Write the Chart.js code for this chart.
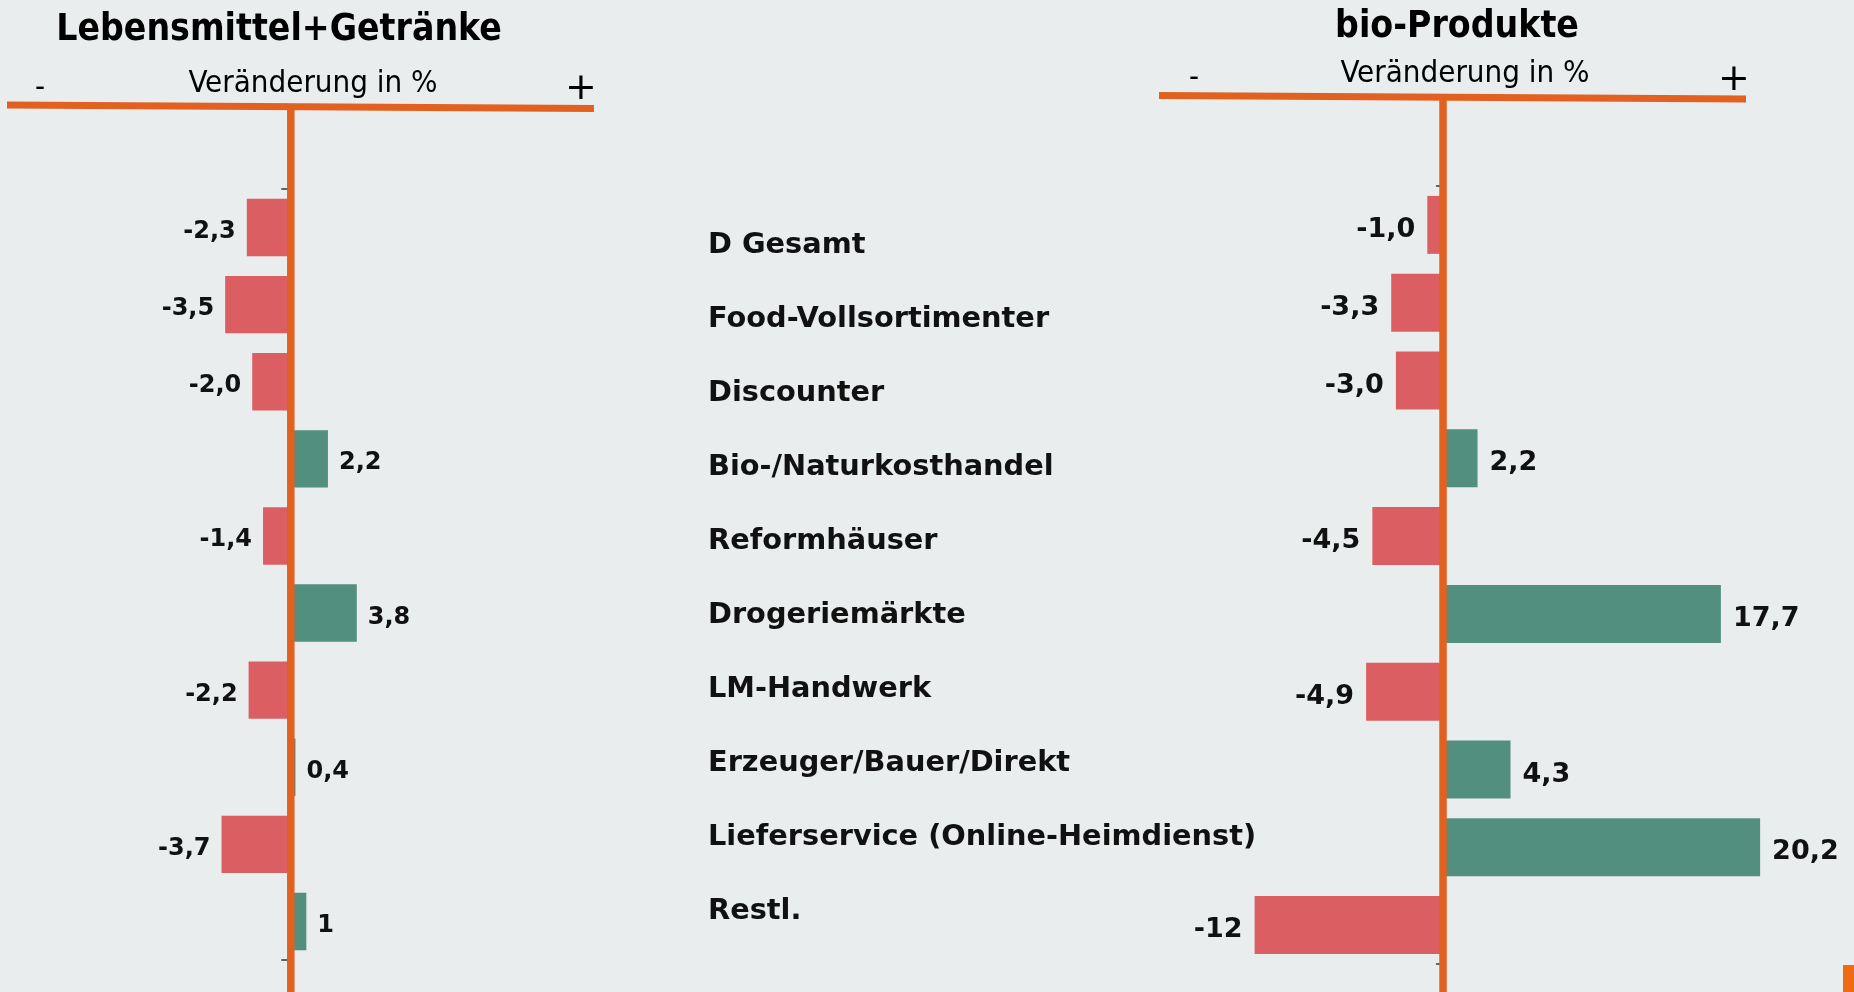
<!DOCTYPE html>
<html lang="de">
<head>
<meta charset="utf-8">
<script src="https://cdn.jsdelivr.net/npm/chart.js@4.4.1/dist/chart.umd.min.js"></script>
<style>
html,body{margin:0;padding:0;background:#e9edee;width:1854px;height:992px;overflow:hidden;}
canvas{position:absolute;left:0;top:0;}
</style>
</head>
<body>
<canvas id="cLeft" width="1854" height="992"></canvas>
<canvas id="cMid" width="1854" height="992"></canvas>
<canvas id="cRight" width="1854" height="992"></canvas>
<script>
// ---------- data ----------
const categories = ["D Gesamt", "Food-Vollsortimenter", "Discounter", "Bio-/Naturkosthandel", "Reformhäuser",
  "Drogeriemärkte", "LM-Handwerk", "Erzeuger/Bauer/Direkt", "Lieferservice (Online-Heimdienst)", "Restl."];
const lmValues  = [-2.3, -3.5, -2.0, 2.2, -1.4, 3.8, -2.2, 0.4, -3.7, 1];
const lmLabels  = ["-2,3", "-3,5", "-2,0", "2,2", "-1,4", "3,8", "-2,2", "0,4", "-3,7", "1"];
const bioValues = [-1.0, -3.3, -3.0, 2.2, -4.5, 17.7, -4.9, 4.3, 20.2, -12];
const bioLabels = ["-1,0", "-3,3", "-3,0", "2,2", "-4,5", "17,7", "-4,9", "4,3", "20,2", "-12"];
const lmTitle = "Lebensmittel+Getränke";
const bioTitle = "bio-Produkte";
const axisCaption = "Veränderung in %";
const minusSign = "-";
const plusSign = "+";

// ---------- styles ----------
const RED = '#db5f62', GREEN = '#528f7e', ORANGE = '#e26020';
const COND = '"DejaVu Sans Condensed", "DejaVu Sans", sans-serif';
Chart.defaults.font.family = '"DejaVu Sans", sans-serif';
const colorsFor = vals => vals.map(v => v < 0 ? RED : GREEN);

const decoPlugin = {
  id: 'deco',
  afterDatasetsDraw(chart, args, o) {
    const ctx = chart.ctx;
    const x = chart.scales.x, area = chart.chartArea;
    const zero = x.getPixelForValue(0);
    ctx.save();
    // data labels
    const meta = chart.getDatasetMeta(0);
    ctx.font = o.labelFont;
    ctx.fillStyle = '#111';
    ctx.textBaseline = 'alphabetic';
    meta.data.forEach((el, i) => {
      const v = chart.data.datasets[0].data[i];
      const txt = o.labels[i];
      if (v < 0) { ctx.textAlign = 'right'; ctx.fillText(txt, el.x - o.gap, el.y + o.labelDy); }
      else { ctx.textAlign = 'left'; ctx.fillText(txt, el.x + o.gap, el.y + o.labelDy); }
    });
    // end ticks of category axis
    ctx.strokeStyle = '#333'; ctx.lineWidth = 1.5;
    [area.top, area.bottom].forEach(y => {
      ctx.beginPath(); ctx.moveTo(zero - 7, y); ctx.lineTo(zero, y); ctx.stroke();
    });
    // vertical zero line
    ctx.strokeStyle = ORANGE; ctx.lineWidth = 7.5;
    ctx.beginPath(); ctx.moveTo(zero + o.lineDx, o.vTop); ctx.lineTo(zero + o.lineDx, 992); ctx.stroke();
    // horizontal header line
    ctx.lineWidth = 7;
    ctx.beginPath(); ctx.moveTo(o.hx1, o.hy1); ctx.lineTo(o.hx2, o.hy2); ctx.stroke();
    // titles
    ctx.fillStyle = '#000';
    ctx.textAlign = 'center';
    ctx.font = 'bold 37px ' + COND;
    ctx.fillText(o.title, o.titleX, o.titleY);
    ctx.font = '31px ' + COND;
    ctx.fillText(axisCaption, o.capX, o.capY);
    ctx.fillText(minusSign, o.minusX, o.minusY);
    ctx.font = '38px "DejaVu Sans"';
    ctx.fillText(plusSign, o.plusX, o.plusY);
    if (o.block) { ctx.fillStyle = '#f06a14'; ctx.fillRect(1843, 965, 11, 27); }
    ctx.restore();
  }
};

function barChart(id, values, labels, xmin, xmax, padding, deco) {
  return new Chart(document.getElementById(id), {
    type: 'bar',
    data: {
      labels: categories,
      datasets: [{ data: values, backgroundColor: colorsFor(values), borderWidth: 0,
        barPercentage: 0.745, categoryPercentage: 1 }]
    },
    options: {
      indexAxis: 'y', responsive: false, animation: false, devicePixelRatio: 1,
      layout: { padding },
      scales: {
        x: { type: 'linear', min: xmin, max: xmax, display: false },
        y: { type: 'category', display: false, offset: true }
      },
      plugins: { legend: { display: false }, tooltip: { enabled: false },
        deco: Object.assign({ labels }, deco) }
    },
    plugins: [decoPlugin]
  });
}

barChart('cLeft', lmValues, lmLabels, -15.6, 16.9,
  { left: 7, right: 1854 - 593, top: 189, bottom: 992 - 960 },
  { labelFont: 'bold 24px "DejaVu Sans"', gap: 11, labelDy: 10.5, lineDx: 2.5, vTop: 106,
    hx1: 7, hy1: 105, hx2: 594, hy2: 108.5,
    title: lmTitle, titleX: 279, titleY: 40, capX: 313, capY: 92,
    minusX: 40, minusY: 96, plusX: 581, plusY: 99, block: false });

barChart('cRight', bioValues, bioLabels, -18.09, 22.74,
  { left: 1159, right: 1854 - 1800, top: 186, bottom: 992 - 964 },
  { labelFont: 'bold 27px "DejaVu Sans"', gap: 12, labelDy: 12, lineDx: 0, vTop: 97,
    hx1: 1159, hy1: 95.5, hx2: 1746, hy2: 99,
    title: bioTitle, titleX: 1457, titleY: 37, capX: 1465, capY: 82,
    minusX: 1194, minusY: 86, plusX: 1734, plusY: 90, block: true });

// middle: category names drawn as a category axis
new Chart(document.getElementById('cMid'), {
  type: 'bar',
  data: { labels: categories, datasets: [{ data: [] }] },
  options: {
    indexAxis: 'y', responsive: false, animation: false, devicePixelRatio: 1,
    layout: { padding: { left: 708, right: 0, top: 208, bottom: 43 } },
    scales: {
      x: { display: false },
      y: { type: 'category', position: 'left', offset: true,
        grid: { display: false }, border: { display: false },
        ticks: { crossAlign: 'far', padding: 0, autoSkip: false, color: '#111',
          font: { family: '"DejaVu Sans"', weight: 'bold', size: 28.8 } } }
    },
    plugins: { legend: { display: false }, tooltip: { enabled: false } }
  }
});
</script>
</body>
</html>
